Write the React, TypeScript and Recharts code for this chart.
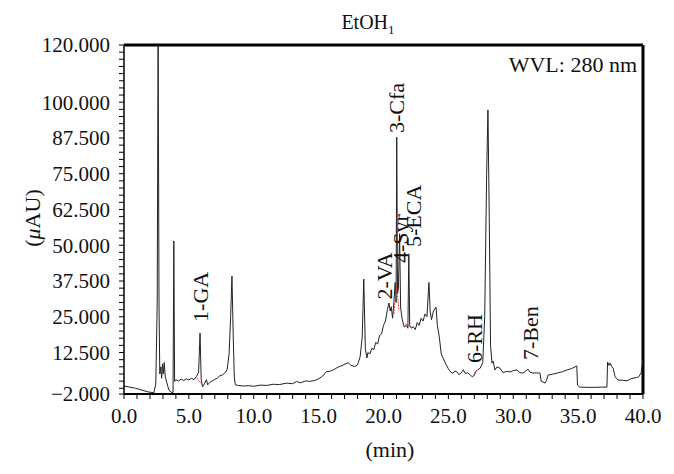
import { ComposedChart, Line, ReferenceLine, Scatter, XAxis, YAxis } from "recharts";

const FONT = "'Liberation Serif', 'Times New Roman', serif";

// chromatogram trace (min, µAU)
const retention = [
  0, 0.9, 1.8, 2.3, 2.45, 2.56, 2.63, 2.7, 2.76, 2.84, 2.9, 2.97, 3.03, 3.1, 3.18, 3.3, 3.45, 3.6, 3.78, 3.84,
  3.9, 4.0, 4.2, 4.4, 4.6, 4.8, 5.0, 5.2, 5.4, 5.6, 5.75, 5.86, 5.95, 6.05, 6.2, 6.35, 6.45, 6.6, 6.8, 7.0,
  7.2, 7.4, 7.6, 7.8, 7.95, 8.1, 8.22, 8.32, 8.42, 8.5, 8.58, 8.8, 9.2, 9.6, 10.0, 10.5, 11.0, 11.5, 12.0, 12.5,
  13.0, 13.3, 13.6, 14.0, 14.3, 14.7, 15.0, 15.3, 15.6, 15.9, 16.2, 16.5, 16.8, 17.1, 17.3, 17.5, 17.8, 18.0, 18.2, 18.36,
  18.48, 18.6, 18.72, 18.8, 18.95, 19.1, 19.25, 19.4, 19.55, 19.7, 19.85, 20.0, 20.15, 20.3, 20.42, 20.52, 20.6, 20.7, 20.8, 20.9,
  20.97, 21.02, 21.08, 21.15, 21.24, 21.32, 21.45, 21.6, 21.75, 21.88, 21.95, 22.02, 22.15, 22.3, 22.45, 22.6, 22.75, 22.9, 23.05, 23.2,
  23.35, 23.5, 23.6, 23.7, 23.85, 24.05, 24.15, 24.3, 24.45, 24.6, 24.8, 25.0, 25.2, 25.35, 25.5, 25.65, 25.8, 26.0, 26.15, 26.3,
  26.5, 26.7, 26.85, 27.0, 27.1, 27.25, 27.45, 27.65, 27.8, 27.95, 28.05, 28.15, 28.25, 28.36, 28.45, 28.59, 28.75, 28.98, 29.2, 29.5,
  29.75, 30.0, 30.29, 30.5, 30.75, 30.95, 31.14, 31.3, 31.52, 31.8, 32.06, 32.15, 32.3, 32.45, 32.55, 32.68, 33.0, 33.37, 33.8, 34.14,
  34.5, 34.9, 34.95, 35.14, 36.0, 36.8, 37.22, 37.27, 37.38, 37.46, 37.6, 37.7, 37.85, 38.07, 38.4, 38.77, 39.0, 39.23, 39.5, 39.65,
  39.85, 40.0,
];
const absorbance = [
  0.8, 0.0, -1.2, -1.6, 1.5, 30, 125, 28, 5, 7.5, 3.5, 8.5, 5, 9, 4, 2, -0.5, -1.3, -1.5, 51.5,
  2.4, 3.0, 2.5, 3.2, 2.7, 3.3, 2.9, 3.5, 3.0, 4.2, 5.6, 19.3, 3.2, 0.5, 1.6, 3.0, 1.2, 2.0, 2.6, 3.1,
  3.6, 4.4, 4.7, 5.5, 6.6, 12, 25, 39.2, 18, 4, 1.2, 1.0, 0.8, 0.9, 0.7, 1.1, 1.0, 1.4, 1.3, 1.8,
  1.6, 2.4, 1.9, 2.6, 2.4, 2.7, 3.3, 4.2, 5.8, 6.0, 6.6, 7.4, 7.9, 8.6, 8.9, 8.0, 7.6, 8.2, 11, 18,
  38.2, 14, 10.6, 12.5, 12, 14, 13.5, 16, 15.5, 18.5, 19, 22, 23.5, 27.5, 29.8, 27, 28.5, 24.5, 30, 37,
  30, 87.8, 33, 35, 54, 28, 23.9, 21.4, 22, 21, 47, 22, 21, 21.5, 20.5, 23, 22, 24.5, 23.5, 26,
  25, 37, 26.7, 24, 27, 28.4, 22, 18, 12, 10.5, 8.5, 6.8, 5.6, 5.2, 6.0, 5.8, 4.8, 5.4, 6.5, 5.2,
  5.4, 4.6, 4.0, 4.5, 5.8, 6.4, 7.0, 9, 25, 75, 97.3, 60, 15, 8.8, 9.5, 6.4, 7.5, 7, 5.5, 5.9,
  5.7, 6.2, 6.4, 5.5, 5.3, 6.0, 6.7, 5.6, 5.3, 5.4, 5.3, 2.5, 2.2, 1.8, 2.6, 4.6, 4.9, 5.3, 5.8, 6.4,
  6.9, 7.8, 1.1, 0.4, 0.3, 0.4, 0.4, 9.2, 8.0, 8.8, 7.5, 7.0, 4.0, 2.9, 2.8, 2.6, 3.2, 3.5, 3.8, 3.9,
  5.3, 9.9,
];

// red integration baselines (null = gap)
const markTimes = [5.6, 6.1, null, 20.8, 21.0, 21.2, null, 21.7, 22.2, null, 26.9, 27.15];
const markLevels = [3.6, 0.9, null, 26, 36, 27, null, 22.5, 21.2, null, 4.2, 6.3];

// peak annotations
const peakNames = ["1-GA", "2-VA", "3-Cfa", "4-Syr", "5-ECA", "6-RH", "7-Ben"];
const peakTimes = [5.86, 20.1, 21.0, 21.27, 22.3, 27.0, 31.3];
const peakLabelLevels = [23.2, 31, 89.2, 43.8, 49.4, 8.8, 9.9];

const xTicks = Array.from({ length: 41 }, (_, i) => i);
const xLabelTicks = [0, 5, 10, 15, 20, 25, 30, 35, 40];
const yTicks = [-2, ...Array.from({ length: 49 }, (_, i) => i * 2.5)];
const yLabelTicks = [-2, 12.5, 25, 37.5, 50, 62.5, 75, 87.5, 100, 120];

function XTick(props: any) {
  const { x, y, payload } = props;
  if (!xLabelTicks.includes(payload.value)) return <g />;
  return (
    <text x={x} y={y} dy={22} textAnchor="middle" fontFamily={FONT} fontSize={21} fill="#111">
      {payload.value.toFixed(1)}
    </text>
  );
}

function YTick(props: any) {
  const { x, y, payload } = props;
  if (!yLabelTicks.includes(payload.value)) return <g />;
  const text = payload.value < 0 ? "\u2212" + Math.abs(payload.value).toFixed(3) : payload.value.toFixed(3);
  return (
    <text x={x} y={y} dy="0.35em" textAnchor="end" fontFamily={FONT} fontSize={21} fill="#111">
      {text}
    </text>
  );
}

function PeakLabel(props: any) {
  const { cx, cy, payload } = props;
  return (
    <text
      x={cx}
      y={cy}
      dy="0.35em"
      transform={`rotate(-90 ${cx} ${cy})`}
      textAnchor="start"
      fontFamily={FONT}
      fontSize={22}
      fill="#111"
    >
      {payload.name}
    </text>
  );
}

export default function App() {
  const trace = retention.map((t, i) => ({ t, v: absorbance[i] }));
  const marks = markTimes.map((t, i) => ({ t, v: markLevels[i] }));
  const peaks = peakNames.map((name, i) => ({ name, t: peakTimes[i], v: peakLabelLevels[i] }));

  return (
    <div style={{ position: "relative", width: 674, height: 474, background: "#fff" }}>
      <style>{`body { margin: 0; }`}</style>
      <ComposedChart width={674} height={474} margin={{ top: 45, right: 31, bottom: 20, left: 24 }}>
        <XAxis
          dataKey="t"
          type="number"
          domain={[0, 40]}
          allowDataOverflow
          ticks={xTicks}
          interval={0}
          height={60}
          tickSize={5}
          tick={<XTick />}
          axisLine={{ stroke: "#000", strokeWidth: 2 }}
          tickLine={{ stroke: "#000" }}
        />
        <YAxis
          type="number"
          domain={[-2, 120]}
          allowDataOverflow
          ticks={yTicks}
          interval={0}
          width={100}
          tickSize={5}
          tickMargin={9}
          tick={<YTick />}
          axisLine={{ stroke: "#000", strokeWidth: 1.5 }}
          tickLine={{ stroke: "#000" }}
        />
        <ReferenceLine y={120} stroke="#000" strokeWidth={3} />
        <ReferenceLine x={40} stroke="#000" strokeWidth={3} />
        <Line
          data={trace}
          dataKey="v"
          type="linear"
          stroke="#222"
          strokeWidth={1}
          dot={false}
          isAnimationActive={false}
        />
        <Line
          data={marks}
          dataKey="v"
          type="linear"
          stroke="#e03a3a"
          strokeWidth={1}
          strokeDasharray="2 1"
          dot={false}
          connectNulls={false}
          isAnimationActive={false}
        />
        <Scatter data={peaks} dataKey="v" shape={<PeakLabel />} isAnimationActive={false} />
      </ComposedChart>
      <svg width={674} height={474} style={{ position: "absolute", left: 0, top: 0, pointerEvents: "none" }}>
        <text x={368} y={29} textAnchor="middle" fontFamily={FONT} fontSize={20} fill="#111">
          EtOH<tspan fontSize={13} dy={5}>1</tspan>
        </text>
        <text x={637} y={72} textAnchor="end" fontFamily={FONT} fontSize={22} fill="#111">
          WVL: 280 nm
        </text>
        <text x={390} y={457} textAnchor="middle" fontFamily={FONT} fontSize={22} fill="#111">
          (min)
        </text>
        <text
          x={32}
          y={218}
          dy="0.35em"
          transform="rotate(-90 32 218)"
          textAnchor="middle"
          fontFamily={FONT}
          fontSize={22}
          fill="#111"
        >
          (<tspan fontStyle="italic">μ</tspan>AU)
        </text>
      </svg>
    </div>
  );
}
